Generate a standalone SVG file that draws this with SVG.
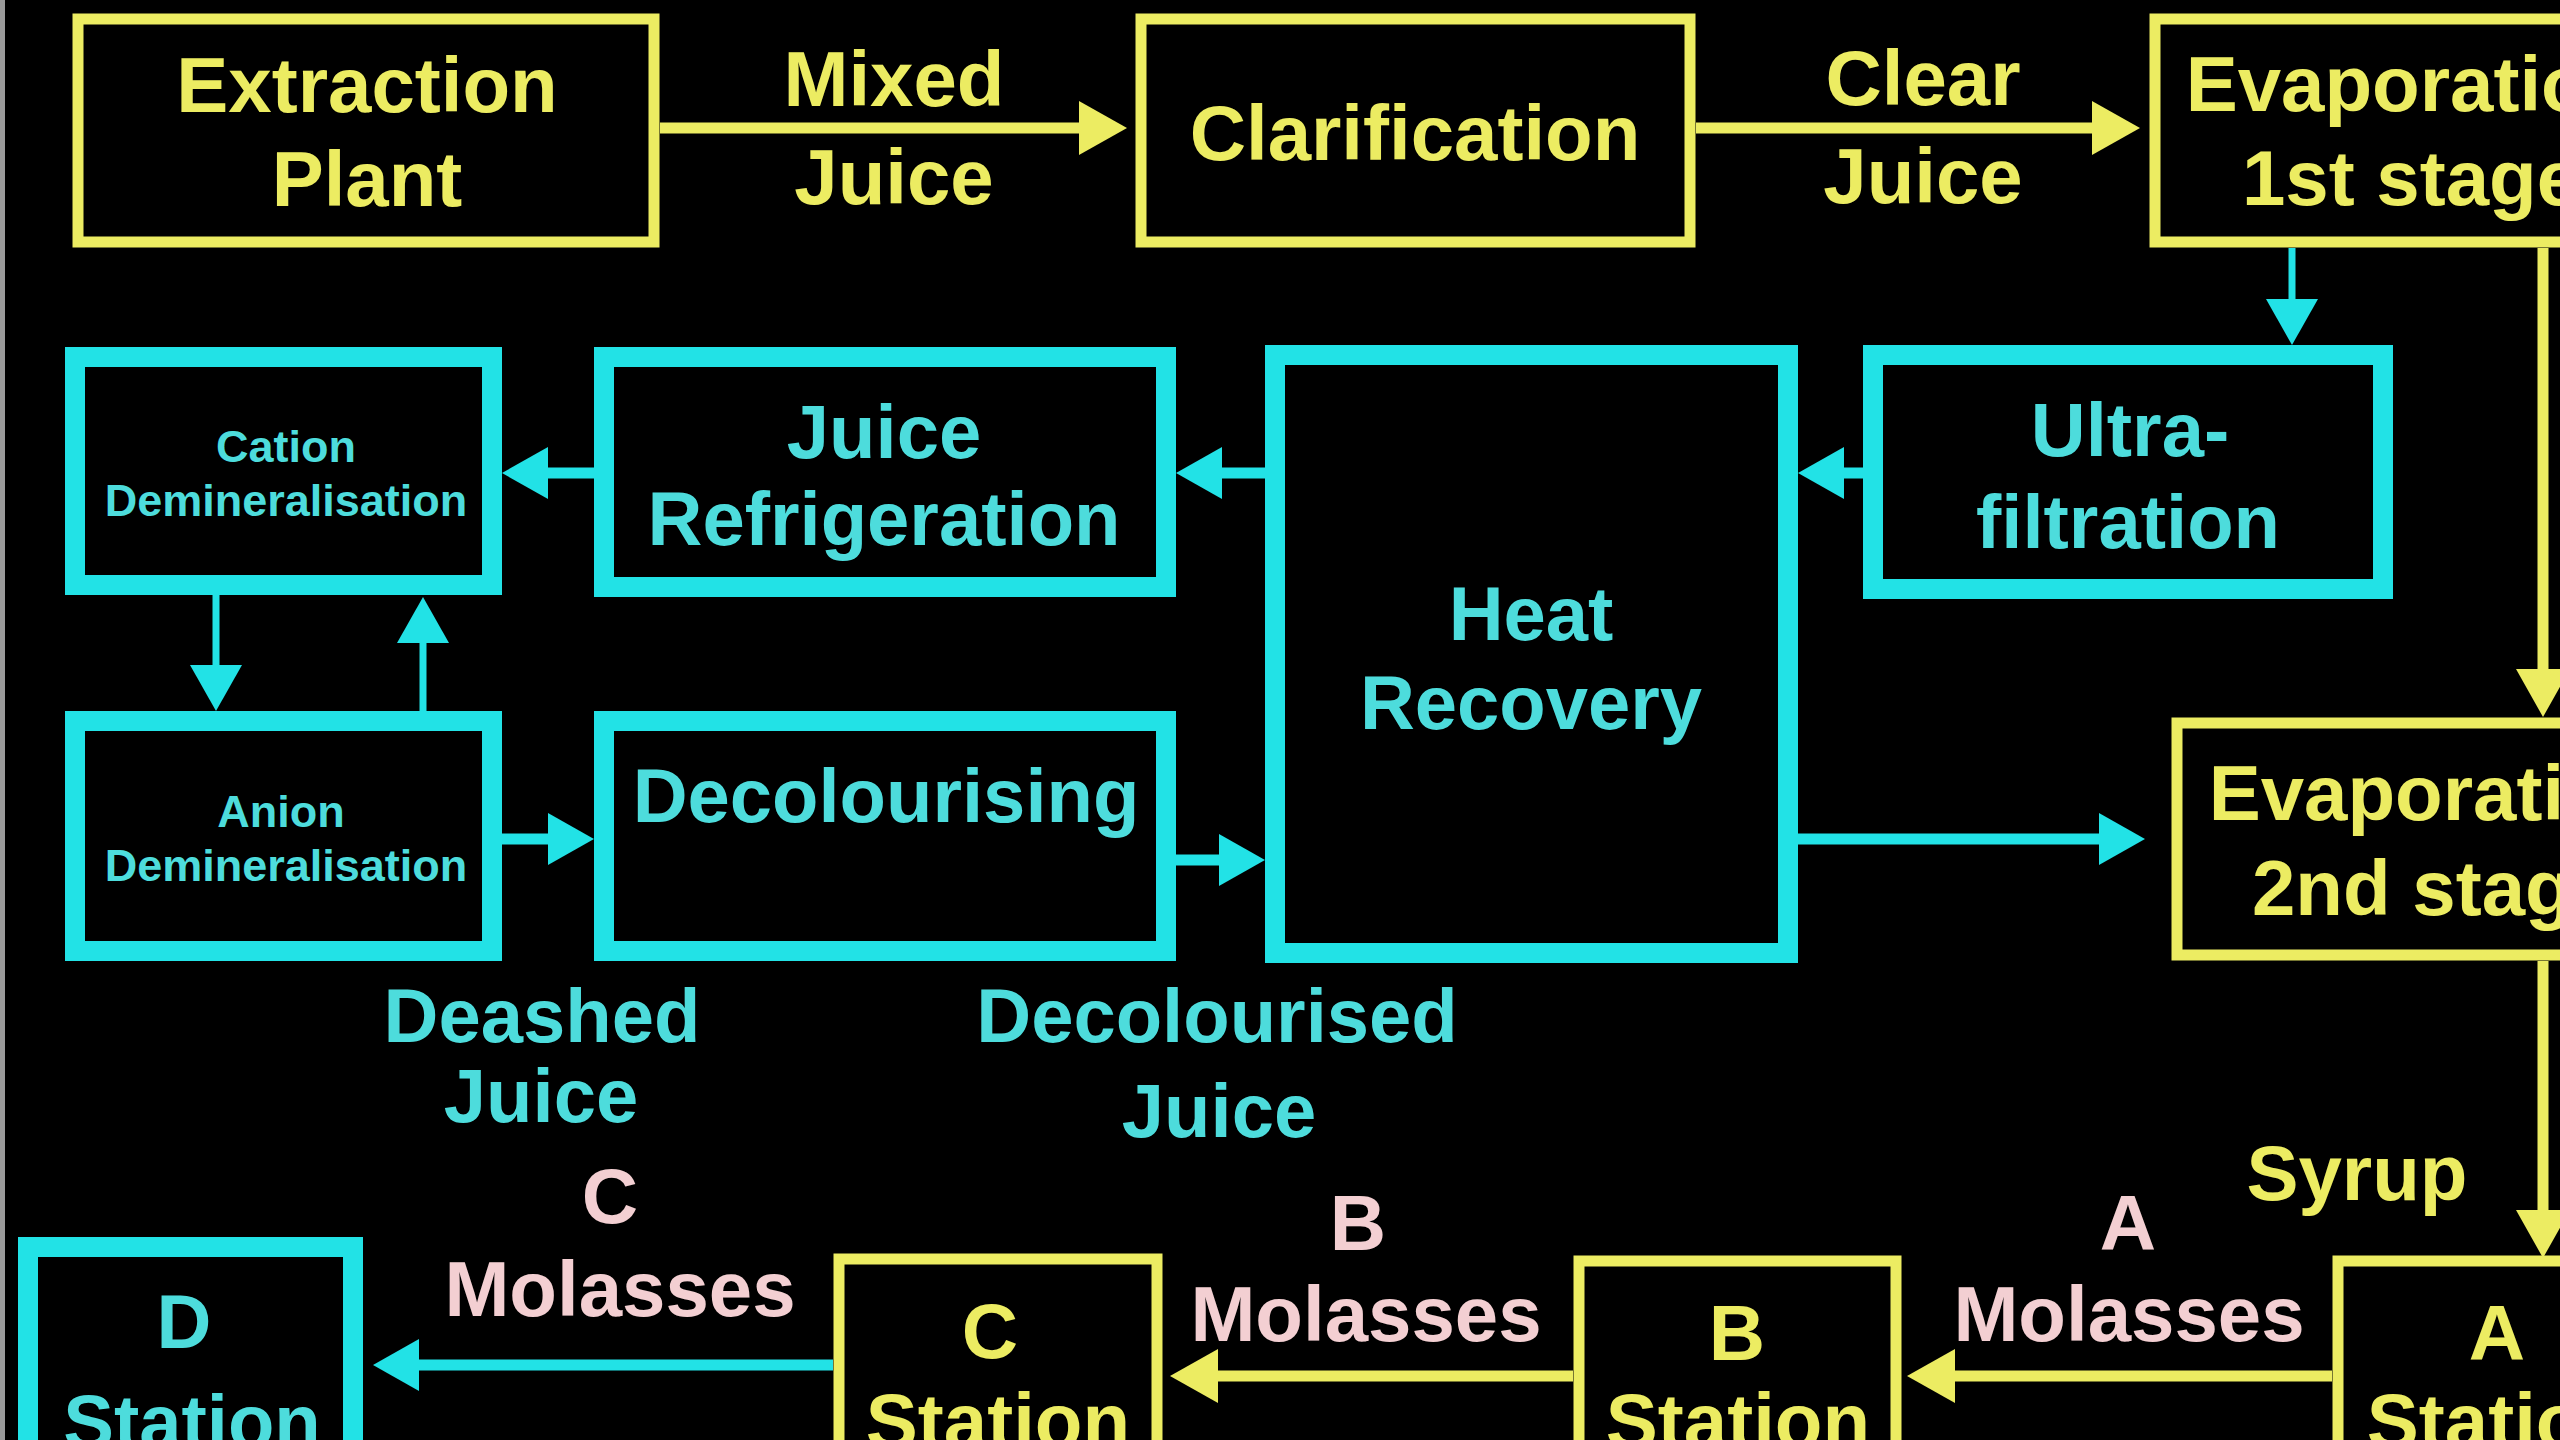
<svg xmlns="http://www.w3.org/2000/svg" width="2560" height="1440" viewBox="0 0 2560 1440">
<defs>
<style>
.ybox{fill:#000;stroke:#ecec62;stroke-width:11}
.cbox{fill:#000;stroke:#22e2e6;stroke-width:20}
.t{font-family:"Liberation Sans",Arial,sans-serif;font-weight:bold;text-anchor:middle}
.ty{fill:#ecec62;font-size:78px}
.tc{fill:#4ddcdc;font-size:76px}
.ts{fill:#4ddcdc;font-size:45px}
.tp{fill:#f3cfd2;font-size:78px}
.yl{fill:none;stroke:#ecec62;stroke-width:11}
.cl{fill:none;stroke:#22e2e6;stroke-width:11}
.cth{fill:none;stroke:#22e2e6;stroke-width:7}
</style>
<marker id="ay" viewBox="0 -28 50 56" refX="0" refY="0" markerWidth="50" markerHeight="56" markerUnits="userSpaceOnUse" orient="auto"><path d="M0,-27 L48,0 L0,27 Z" fill="#ecec62"/></marker>
<marker id="ac" viewBox="0 -28 50 56" refX="0" refY="0" markerWidth="50" markerHeight="56" markerUnits="userSpaceOnUse" orient="auto"><path d="M0,-26 L46,0 L0,26 Z" fill="#22e2e6"/></marker>
</defs>
<rect x="0" y="0" width="2560" height="1440" fill="#000"/>
<rect x="0" y="0" width="5" height="1440" fill="#9a9a9a"/>

<g id="connectors">
<path class="yl" d="M660,128 H1079" marker-end="url(#ay)"/>
<path class="yl" d="M1696,128 H2092" marker-end="url(#ay)"/>
<path class="yl" d="M2543,248 V669" marker-end="url(#ay)"/>
<path class="yl" d="M2543,961 V1210" marker-end="url(#ay)"/>
<path class="yl" d="M2332,1376 H1955" marker-end="url(#ay)"/>
<path class="yl" d="M1573,1376 H1218" marker-end="url(#ay)"/>
<path class="cl" d="M833,1365 H419" marker-end="url(#ac)"/>
<path class="cth" d="M2292,248 V299" marker-end="url(#ac)"/>
<path class="cl" d="M1863,473 H1844" marker-end="url(#ac)"/>
<path class="cl" d="M1265,473 H1222" marker-end="url(#ac)"/>
<path class="cl" d="M594,473 H548" marker-end="url(#ac)"/>
<path class="cth" d="M216,595 V665" marker-end="url(#ac)"/>
<path class="cth" d="M423,711 V643" marker-end="url(#ac)"/>
<path class="cl" d="M502,839 H548" marker-end="url(#ac)"/>
<path class="cl" d="M1176,860 H1219" marker-end="url(#ac)"/>
<path class="cl" d="M1798,839 H2099" marker-end="url(#ac)"/>
</g>

<g id="extraction"><rect class="ybox" x="78" y="19" width="576" height="223"/>
<text class="t ty" x="367" y="112">Extraction</text><text class="t ty" x="367" y="206">Plant</text></g>
<g id="label-mixed-juice"><text class="t ty" x="894" y="106">Mixed</text><text class="t ty" x="894" y="204">Juice</text></g>
<g id="clarification"><rect class="ybox" x="1141" y="19" width="549" height="223"/>
<text class="t ty" x="1415" y="160">Clarification</text></g>
<g id="label-clear-juice"><text class="t ty" x="1923" y="105">Clear</text><text class="t ty" x="1923" y="203">Juice</text></g>
<g id="evap1"><rect class="ybox" x="2155" y="19" width="530" height="223"/>
<text class="t ty" x="2411" y="111">Evaporation</text><text class="t ty" x="2411" y="205">1st stage</text></g>
<g id="evap2"><rect class="ybox" x="2177" y="723" width="520" height="232"/>
<text class="t ty" x="2434" y="820">Evaporation</text><text class="t ty" x="2434" y="915">2nd stage</text></g>
<g id="label-syrup"><text class="t ty" x="2357" y="1200">Syrup</text></g>

<g id="cation"><rect class="cbox" x="75" y="357" width="417" height="228"/>
<text class="t ts" x="286" y="462">Cation</text><text class="t ts" x="286" y="516">Demineralisation</text></g>
<g id="juice-refrigeration"><rect class="cbox" x="604" y="357" width="562" height="230"/>
<text class="t tc" x="884" y="458">Juice</text><text class="t tc" x="884" y="545">Refrigeration</text></g>
<g id="anion"><rect class="cbox" x="75" y="721" width="417" height="230"/>
<text class="t ts" x="281" y="827">Anion</text><text class="t ts" x="286" y="881">Demineralisation</text></g>
<g id="decolourising"><rect class="cbox" x="604" y="721" width="562" height="230"/>
<text class="t tc" x="886" y="822">Decolourising</text></g>
<g id="heat-recovery"><rect class="cbox" x="1275" y="355" width="513" height="598"/>
<text class="t tc" x="1531" y="640">Heat</text><text class="t tc" x="1531" y="729">Recovery</text></g>
<g id="ultrafiltration"><rect class="cbox" x="1873" y="355" width="510" height="234"/>
<text class="t tc" x="2130" y="456">Ultra-</text><text class="t tc" x="2128" y="548">filtration</text></g>
<g id="label-deashed"><text class="t tc" x="542" y="1042">Deashed</text><text class="t tc" x="541" y="1122">Juice</text></g>
<g id="label-decolourised"><text class="t tc" x="1217" y="1042">Decolourised</text><text class="t tc" x="1219" y="1137">Juice</text></g>

<g id="a-station"><rect class="ybox" x="2338" y="1261" width="320" height="250"/>
<text class="t ty" x="2497" y="1360">A</text><text class="t ty" x="2499" y="1448">Station</text></g>
<g id="label-a-molasses"><text class="t tp" x="2128" y="1250">A</text><text class="t tp" x="2129" y="1341">Molasses</text></g>
<g id="b-station"><rect class="ybox" x="1579" y="1261" width="317" height="250"/>
<text class="t ty" x="1737" y="1360">B</text><text class="t ty" x="1738" y="1448">Station</text></g>
<g id="label-b-molasses"><text class="t tp" x="1358" y="1250">B</text><text class="t tp" x="1366" y="1341">Molasses</text></g>
<g id="c-station"><rect class="ybox" x="839" y="1259" width="318" height="250"/>
<text class="t ty" x="990" y="1358">C</text><text class="t ty" x="998" y="1448">Station</text></g>
<g id="label-c-molasses"><text class="t tp" x="610" y="1223">C</text><text class="t tp" x="620" y="1316">Molasses</text></g>
<g id="d-station"><rect class="cbox" x="28" y="1247" width="325" height="260"/>
<text class="t tc" x="184" y="1348">D</text><text class="t tc" x="192" y="1448">Station</text></g>
</svg>
